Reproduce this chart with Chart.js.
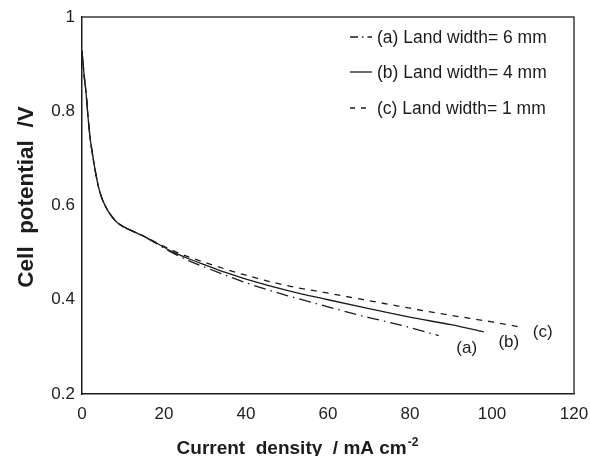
<!DOCTYPE html>
<html>
<head>
<meta charset="utf-8">
<script src="https://cdn.jsdelivr.net/npm/chart.js@4/dist/chart.umd.min.js"></script>
<style>
  html, body { margin: 0; padding: 0; background: #ffffff; }
  #wrap { width: 590px; height: 456px; }
</style>
</head>
<body>
<div id="wrap"><canvas id="cv" width="590" height="456"></canvas></div>
<script>
// Polarisation curves: cell potential vs current density for three land widths
const seriesLabels = ['(a) Land width= 6 mm', '(b) Land width= 4 mm', '(c) Land width= 1 mm'];
const endTags = ['(a)', '(b)', '(c)'];

// current density / mA cm-2
const currentA = [0, 0.5, 1, 1.5, 2, 2.5, 3, 4, 5, 6, 7, 8, 9, 11, 13, 15, 18, 22, 26, 30, 35, 40, 50, 60, 70, 75, 80, 87];
const currentB = [0, 0.5, 1, 1.5, 2, 2.5, 3, 4, 5, 6, 7, 8, 9, 11, 13, 15, 18, 22, 26, 30, 35, 40, 50, 60, 70, 80, 90, 98];
const currentC = [0, 0.5, 1, 1.5, 2, 2.5, 3, 4, 5, 6, 7, 8, 9, 11, 13, 15, 18, 22, 26, 30, 35, 40, 50, 60, 70, 80, 90, 100, 107];

// cell potential / V
const potentialA = [0.928, 0.878, 0.838, 0.785, 0.742, 0.712, 0.685, 0.640, 0.612, 0.594, 0.580, 0.569, 0.561, 0.551, 0.543, 0.535, 0.520, 0.500, 0.483, 0.469, 0.452, 0.436, 0.409, 0.385, 0.362, 0.352, 0.341, 0.324];
const potentialB = [0.928, 0.878, 0.838, 0.785, 0.742, 0.712, 0.685, 0.640, 0.612, 0.594, 0.580, 0.569, 0.561, 0.551, 0.543, 0.535, 0.521, 0.502, 0.487, 0.474, 0.458, 0.444, 0.420, 0.400, 0.381, 0.363, 0.347, 0.332];
const potentialC = [0.928, 0.878, 0.838, 0.785, 0.742, 0.712, 0.685, 0.640, 0.612, 0.594, 0.580, 0.569, 0.561, 0.551, 0.543, 0.535, 0.522, 0.505, 0.491, 0.479, 0.465, 0.452, 0.430, 0.414, 0.398, 0.382, 0.367, 0.353, 0.342];

// axis ticks
const xTicks = [0, 20, 40, 60, 80, 100, 120];
const yTicks = [0.2, 0.4, 0.6, 0.8, 1];

const INK = '#1c1c1c';
const FONT = '"Liberation Sans", Arial, Helvetica, sans-serif';

const pts = (xs, ys) => xs.map((x, i) => ({ x: x, y: ys[i] }));

const lineStyles = [
  { dash: [12, 5, 1.5, 5], legendDash: [8, 4, 1.5, 4] },
  { dash: [], legendDash: [] },
  { dash: [6, 6], legendDash: [5, 6] }
];

const datasets = [
  { label: seriesLabels[2], data: pts(currentC, potentialC), borderDash: lineStyles[2].dash, tag: endTags[2], tagDx: 22, tagDy: 5 },
  { label: seriesLabels[0], data: pts(currentA, potentialA), borderDash: lineStyles[0].dash, tag: endTags[0], tagDx: 28, tagDy: 13 },
  { label: seriesLabels[1], data: pts(currentB, potentialB), borderDash: lineStyles[1].dash, tag: endTags[1], tagDx: 25, tagDy: 11 }
].map(d => Object.assign({
  borderColor: INK,
  borderWidth: 1.3,
  pointRadius: 0,
  fill: false,
  cubicInterpolationMode: 'monotone'
}, d));

// frame, legend, end tags and axis titles
const decorations = {
  id: 'decorations',
  afterDatasetsDraw(chart) {
    const ctx = chart.ctx;
    const a = chart.chartArea;
    ctx.save();

    // top and right sides of the plot frame
    ctx.strokeStyle = '#3a3a3a';
    ctx.lineWidth = 1.5;
    ctx.setLineDash([]);
    ctx.beginPath();
    ctx.moveTo(a.left, a.top);
    ctx.lineTo(a.right, a.top);
    ctx.lineTo(a.right, a.bottom);
    ctx.stroke();

    // legend in the upper right corner
    ctx.font = '17.5px ' + FONT;
    ctx.fillStyle = INK;
    ctx.textBaseline = 'middle';
    ctx.textAlign = 'left';
    const lx0 = 350, lx1 = 372, tx = 377;
    const rowY = [37, 72, 108];
    for (let i = 0; i < 3; i++) {
      ctx.strokeStyle = INK;
      ctx.lineWidth = 1.3;
      ctx.setLineDash(lineStyles[i].legendDash);
      ctx.beginPath();
      ctx.moveTo(lx0, rowY[i]);
      ctx.lineTo(lx1, rowY[i]);
      ctx.stroke();
      ctx.fillText(seriesLabels[i], tx, rowY[i] + 1);
    }
    ctx.setLineDash([]);

    // tags at the end of each curve
    const xs = chart.scales.x, ys = chart.scales.y;
    ctx.font = '17px ' + FONT;
    ctx.textAlign = 'center';
    chart.data.datasets.forEach(ds => {
      const last = ds.data[ds.data.length - 1];
      const px = xs.getPixelForValue(last.x);
      const py = ys.getPixelForValue(last.y);
      ctx.fillText(ds.tag, px + ds.tagDx, py + ds.tagDy);
    });

    // y axis title
    ctx.font = 'bold 22.5px ' + FONT;
    ctx.save();
    ctx.translate(27, 197);
    ctx.rotate(-Math.PI / 2);
    ctx.textAlign = 'center';
    ctx.textBaseline = 'middle';
    ctx.fillText('Cell  potential  /V', 0, 0);
    ctx.restore();

    // x axis title with superscript
    const main = 'Current  density  / mA cm';
    const sup = '-2';
    ctx.font = 'bold 19px ' + FONT;
    const wMain = ctx.measureText(main).width;
    ctx.font = 'bold 12px ' + FONT;
    const wSup = ctx.measureText(sup).width;
    const startX = 297 - (wMain + wSup) / 2;
    ctx.textAlign = 'left';
    ctx.textBaseline = 'alphabetic';
    ctx.font = 'bold 19px ' + FONT;
    ctx.fillText(main, startX, 454);
    ctx.font = 'bold 12px ' + FONT;
    ctx.fillText(sup, startX + wMain + 1, 446);

    ctx.restore();
  }
};

new Chart(document.getElementById('cv'), {
  type: 'line',
  data: { datasets: datasets },
  options: {
    responsive: false,
    animation: false,
    events: [],
    layout: { padding: { left: 0, top: 17, right: 16, bottom: 0 } },
    plugins: { legend: { display: false }, tooltip: { enabled: false } },
    scales: {
      x: {
        type: 'linear',
        min: xTicks[0],
        max: xTicks[xTicks.length - 1],
        afterBuildTicks: s => { s.ticks = xTicks.map(v => ({ value: v })); },
        afterFit: s => { s.height = 62; s.paddingLeft = 0; s.paddingRight = 0; },
        grid: { display: false, drawTicks: false },
        border: { display: true, color: '#1c1c1c', width: 1.5 },
        ticks: { padding: 10, color: '#222', font: { family: FONT, size: 17 }, maxRotation: 0, autoSkip: false,
                  callback: v => String(v) }
      },
      y: {
        type: 'linear',
        min: yTicks[0],
        max: yTicks[yTicks.length - 1],
        afterBuildTicks: s => { s.ticks = yTicks.map(v => ({ value: v })); },
        afterFit: s => { s.width = 82; s.paddingTop = 0; s.paddingBottom = 0; },
        grid: { display: false, drawTicks: false },
        border: { display: true, color: '#1c1c1c', width: 1.5 },
        ticks: { padding: 7, color: '#222', font: { family: FONT, size: 17 }, autoSkip: false,
                  callback: v => String(Number(v.toFixed(1))) }
      }
    }
  },
  plugins: [decorations]
});
</script>
</body>
</html>
